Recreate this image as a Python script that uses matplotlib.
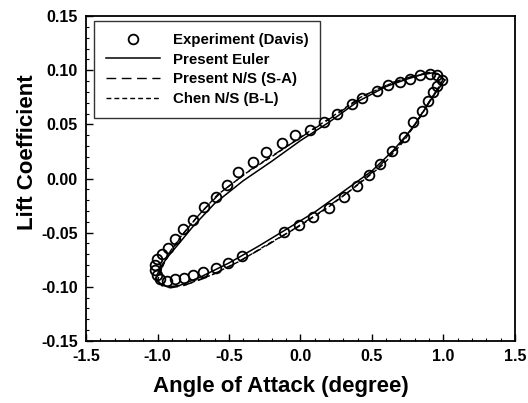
import matplotlib.pyplot as plt
from matplotlib.ticker import MultipleLocator, FormatStrFormatter

plt.rcParams['font.family'] = ['Liberation Sans', 'DejaVu Sans']
plt.rcParams['font.weight'] = 'bold'

# Experiment (Davis): lift coefficient around the pitching cycle
alpha_exp = [-1.017, -1.017, -1.001, -0.971, -0.929, -0.878, -0.824, -0.754, -0.675, -0.593,
             -0.516, -0.435, -0.330, -0.241, -0.131, -0.038, 0.066, 0.164, 0.255, 0.360,
             0.430, 0.535, 0.612, 0.696, 0.766, 0.836, 0.906, 0.955, 0.990,
             0.955, 0.927, 0.892, 0.850, 0.787, 0.724, 0.640, 0.556, 0.479, 0.395,
             0.304, 0.199, 0.087, -0.010, -0.115, -0.406, -0.507, -0.593, -0.680, -0.750,
             -0.815, -0.878, -0.936, -0.983, -1.006]
cl_exp = [-0.0845, -0.0799, -0.0746, -0.0697, -0.0645, -0.0561, -0.0469, -0.0383, -0.0260, -0.0171,
          -0.0060, 0.0063, 0.0155, 0.0247, 0.0331, 0.0402, 0.0448, 0.0524, 0.0596, 0.0688,
          0.0743, 0.0808, 0.0863, 0.0891, 0.0919, 0.0956, 0.0965, 0.0956, 0.0910,
          0.0854, 0.0799, 0.0716, 0.0623, 0.0522, 0.0383, 0.0254, 0.0134, 0.0032, -0.0069,
          -0.0171, -0.0268, -0.0355, -0.0429, -0.0494, -0.0711, -0.0780, -0.0824, -0.0861, -0.0891,
          -0.0916, -0.0931, -0.0944, -0.0931, -0.0891]

# Present Euler
alpha_euler = [1.01, 0.97, 0.92, 0.85, 0.75, 0.60, 0.40, 0.20, 0.00, -0.20, -0.40, -0.60,
               -0.75, -0.85, -0.92, -0.97, -1.00, -1.01, -0.98, -0.93, -0.85, -0.70, -0.50,
               -0.30, -0.10, 0.10, 0.30, 0.50, 0.65, 0.78, 0.88, 0.95, 0.99, 1.01]
cl_euler = [0.091, 0.096, 0.0975, 0.096, 0.092, 0.085, 0.071, 0.052, 0.035, 0.016, -0.002, -0.023,
            -0.044, -0.060, -0.071, -0.080, -0.088, -0.093, -0.097, -0.100, -0.099, -0.091, -0.078,
            -0.063, -0.047, -0.031, -0.012, 0.007, 0.026, 0.046, 0.066, 0.080, 0.087, 0.091]

# Present N/S (S-A)
alpha_sa = [1.00, 0.96, 0.90, 0.80, 0.65, 0.45, 0.25, 0.05, -0.15, -0.35, -0.55, -0.70,
            -0.82, -0.90, -0.96, -0.99, -1.00, -0.97, -0.91, -0.82, -0.65, -0.45, -0.25,
            -0.05, 0.15, 0.35, 0.55, 0.70, 0.82, 0.91, 0.97, 1.00]
cl_sa = [0.092, 0.097, 0.098, 0.095, 0.089, 0.077, 0.059, 0.042, 0.025, 0.008, -0.012, -0.032,
         -0.051, -0.066, -0.079, -0.089, -0.094, -0.099, -0.101, -0.099, -0.091, -0.078, -0.063,
         -0.047, -0.030, -0.011, 0.011, 0.032, 0.054, 0.073, 0.085, 0.092]

# Chen N/S (B-L)
alpha_chen = [1.00, 0.95, 0.88, 0.78, 0.62, 0.42, 0.22, 0.02, -0.18, -0.38, -0.58, -0.72,
              -0.84, -0.91, -0.96, -0.99, -1.00, -0.96, -0.90, -0.80, -0.62, -0.42, -0.22,
              -0.02, 0.18, 0.38, 0.58, 0.72, 0.84, 0.92, 0.97, 1.00]
cl_chen = [0.092, 0.097, 0.097, 0.094, 0.087, 0.075, 0.057, 0.040, 0.022, 0.005, -0.015, -0.035,
           -0.054, -0.067, -0.080, -0.090, -0.095, -0.099, -0.100, -0.098, -0.089, -0.076, -0.060,
           -0.045, -0.028, -0.008, 0.013, 0.034, 0.057, 0.075, 0.085, 0.092]

fig = plt.figure(figsize=(5.28, 4.03), dpi=100)
ax = fig.add_axes([0.163, 0.154, 0.812, 0.806])

ax.plot(alpha_exp, cl_exp, 'o', ms=7, mfc='none', mec='black', mew=1.3,
        label='Experiment (Davis)', zorder=3)
ax.plot(alpha_euler, cl_euler, '-', color='black', lw=1.1, label='Present Euler')
ax.plot(alpha_sa, cl_sa, color='black', lw=1.0, dashes=(7, 4), label='Present N/S (S-A)')
ax.plot(alpha_chen, cl_chen, color='black', lw=1.0, dashes=(3.5, 2.2), label='Chen N/S (B-L)')

ax.set_xlim(-1.5, 1.5)
ax.set_ylim(-0.15, 0.15)
ax.xaxis.set_major_locator(MultipleLocator(0.5))
ax.xaxis.set_minor_locator(MultipleLocator(0.1))
ax.yaxis.set_major_locator(MultipleLocator(0.05))
ax.yaxis.set_minor_locator(MultipleLocator(0.01))
ax.xaxis.set_major_formatter(FormatStrFormatter('%.1f'))
ax.yaxis.set_major_formatter(FormatStrFormatter('%.2f'))
ax.tick_params(which='both', direction='in', top=False, right=False, labelsize=11.5)
ax.tick_params(which='major', length=5, width=1, pad=6)
ax.tick_params(which='minor', length=2.5, width=0.8)
for s in ax.spines.values():
    s.set_linewidth(1.3)

ax.set_xlabel('Angle of Attack (degree)', fontsize=16, fontweight='bold')
ax.set_ylabel('Lift Coefficient', fontsize=16, fontweight='bold')
ax.xaxis.set_label_coords(0.455, -0.108)
ax.yaxis.set_label_coords(-0.113, 0.58)

leg = ax.legend(loc='upper left', bbox_to_anchor=(0.018, 0.985), fontsize=10.8,
                frameon=True, fancybox=False, edgecolor='black', handlelength=3.6,
                handletextpad=0.87, labelspacing=0.38, borderpad=0.8, borderaxespad=0)
leg.get_frame().set_linewidth(1.0)

fig.savefig('out.png', dpi=100)
